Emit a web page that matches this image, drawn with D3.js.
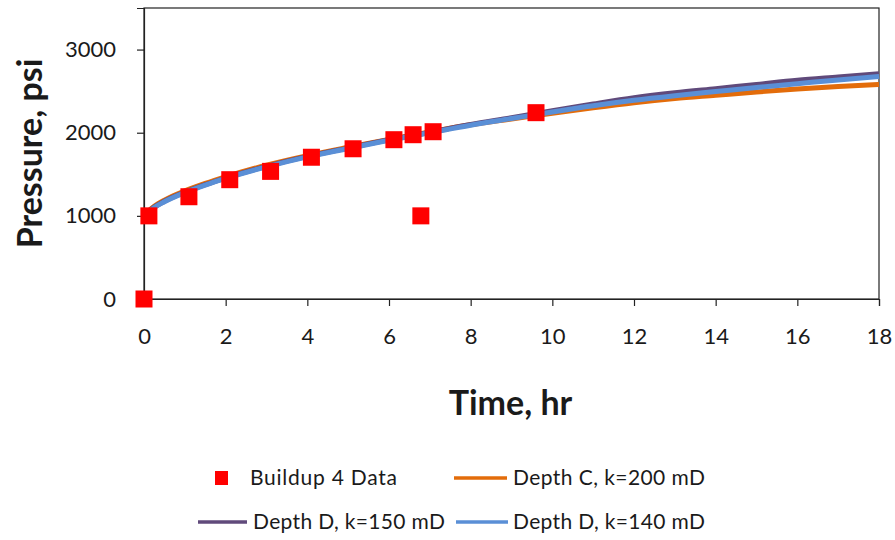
<!DOCTYPE html>
<html>
<head>
<meta charset="utf-8">
<script src="https://cdn.jsdelivr.net/npm/d3@7"></script>
<style>
  body { margin: 0; background: #fff; }
  text { font-family: Lato, "Liberation Sans", sans-serif; fill: #1a1a1a; }
</style>
</head>
<body>
<div id="chart"></div>
<script>
// model curves
const times = [0, 0.25, 0.5, 1, 1.5, 2, 3, 4, 5, 6, 7, 8, 9, 10, 11, 12, 13, 14, 15, 16, 17, 18];
const depthC200 = [1010, 1115, 1190, 1300, 1390, 1470, 1610, 1725, 1825, 1920, 2010, 2095, 2165, 2235, 2300, 2360, 2410, 2450, 2490, 2525, 2555, 2580];
const depthD150 = [1005, 1105, 1175, 1285, 1375, 1455, 1595, 1715, 1815, 1915, 2005, 2100, 2180, 2265, 2345, 2420, 2480, 2530, 2580, 2630, 2670, 2710];
const depthD140 = [1000, 1100, 1170, 1280, 1370, 1450, 1590, 1710, 1810, 1910, 2000, 2090, 2170, 2250, 2325, 2390, 2445, 2495, 2545, 2590, 2635, 2675];

// buildup measurements
const buildupTime = [0, 0.12, 1.1, 2.1, 3.1, 4.1, 5.12, 6.12, 6.59, 7.08, 6.78, 9.6];
const buildupPressure = [0, 1000, 1230, 1435, 1535, 1705, 1807, 1916, 1976, 2012, 1000, 2241];

const xTicks = [0, 2, 4, 6, 8, 10, 12, 14, 16, 18];
const yTicks = [0, 1000, 2000, 3000];

const series = [
    {name: "Depth C, k=200 mD", values: depthC200, color: "#e36c0a"},
    {name: "Depth D, k=150 mD", values: depthD150, color: "#604a7b"},
    {name: "Depth D, k=140 mD", values: depthD140, color: "#5a8fd6"}
];

const W = 895, H = 540;
const margin = {top: 8, right: 16, bottom: 241, left: 144},
    width = W - margin.left - margin.right,
    height = H - margin.top - margin.bottom;

const svg = d3.select("#chart")
    .append("svg")
    .attr("width", W)
    .attr("height", H);

const g = svg.append("g")
    .attr("transform", `translate(${margin.left}, ${margin.top})`);

const x = d3.scaleLinear().domain([0, 18]).range([0, width]);
const y = d3.scaleLinear().domain([0, 3500]).range([height, 0]);

// plot border
g.append("rect")
    .attr("width", width)
    .attr("height", height)
    .attr("fill", "none")
    .attr("stroke", "#222")
    .attr("stroke-width", 1.2);

const xAxis = g.append("g")
    .attr("transform", `translate(0, ${height})`)
    .call(d3.axisBottom(x).tickValues(xTicks).tickSize(7).tickPadding(22));
const yAxis = g.append("g")
    .call(d3.axisLeft(y).tickValues(yTicks).tickFormat(d3.format("d")).tickSize(7).tickPadding(21));

[xAxis, yAxis].forEach(a => {
    a.select(".domain").attr("stroke", "#222").attr("stroke-width", 1.2);
    a.selectAll(".tick line").attr("stroke", "#222").attr("stroke-width", 1.2);
    a.selectAll(".tick text")
        .attr("font-size", 22)
        .attr("font-family", "Lato, sans-serif")
        .attr("fill", "#333");
});

const line = d3.line()
    .curve(d3.curveMonotoneX)
    .x((d, i) => x(times[i]))
    .y(d => y(d));

series.forEach(s => {
    g.append("path")
        .datum(s.values)
        .attr("fill", "none")
        .attr("stroke", s.color)
        .attr("stroke-width", 5)
        .attr("stroke-linejoin", "round")
        .attr("d", line);
});

const sq = 17;
g.selectAll("rect.pt")
    .data(buildupTime)
    .join("rect")
    .attr("class", "pt")
    .attr("x", (d) => x(d) - sq / 2)
    .attr("y", (d, i) => y(buildupPressure[i]) - sq / 2)
    .attr("width", sq)
    .attr("height", sq)
    .attr("fill", "#ff0000");

// axis titles
svg.append("text")
    .attr("x", margin.left + width / 2 - 1)
    .attr("y", 415)
    .attr("text-anchor", "middle")
    .attr("font-size", 34)
    .attr("font-weight", "bold")
    .text("Time, hr");

svg.append("text")
    .attr("transform", `translate(42, ${margin.top + height / 2}) rotate(-90)`)
    .attr("text-anchor", "middle")
    .attr("font-size", 34)
    .attr("font-weight", "bold")
    .text("Pressure, psi");

// legend
const legend = svg.append("g");
const lrow1 = 478, lrow2 = 522;

legend.append("rect")
    .attr("x", 215).attr("y", lrow1 - 7)
    .attr("width", 13).attr("height", 14)
    .attr("fill", "#ff0000");
legend.append("text")
    .attr("x", 250).attr("y", lrow1 + 7)
    .attr("font-size", 21)
    .attr("textLength", 147)
    .text("Buildup 4 Data");

const legendItems = [
    {s: series[0], x0: 454, x1: 507, tx: 513, ty: lrow1},
    {s: series[1], x0: 198, x1: 247, tx: 253, ty: lrow2},
    {s: series[2], x0: 456, x1: 508, tx: 513, ty: lrow2}
];
legendItems.forEach(it => {
    legend.append("line")
        .attr("x1", it.x0).attr("x2", it.x1)
        .attr("y1", it.ty).attr("y2", it.ty)
        .attr("stroke", it.s.color)
        .attr("stroke-width", 3.5);
    legend.append("text")
        .attr("x", it.tx).attr("y", it.ty + 7)
        .attr("font-size", 21)
        .attr("textLength", 192)
        .text(it.s.name);
});
</script>
</body>
</html>
